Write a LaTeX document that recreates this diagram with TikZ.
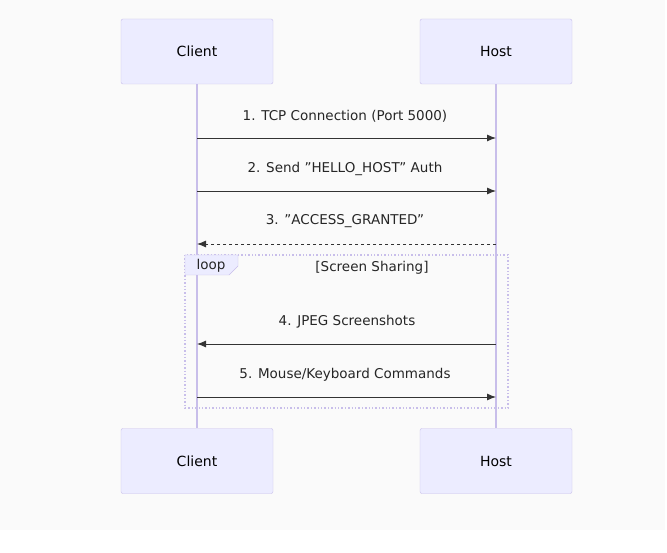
\documentclass[tikz,border=0pt]{standalone}
\usepackage{fontspec}
\setmainfont{DejaVu Sans}
\usetikzlibrary{arrows.meta}
\definecolor{actfill}{HTML}{ECECFF}
\definecolor{actline}{HTML}{C8BEEA}
\definecolor{msgline}{HTML}{333333}
\definecolor{bgcol}{HTML}{FAFAFA}
\newcommand{\dq}{\symbol{"22}}
\begin{document}
\begin{tikzpicture}[x=1pt,y=-1pt,
    actor/.style={draw=actline, fill=actfill, rounded corners=2pt, minimum width=152pt, minimum height=65pt, font=\fontsize{14}{16}\selectfont, text=black},
    msg/.style={draw=msgline, -{Latex[length=9pt,width=7pt]}, line width=0.9pt},
    lbl/.style={font=\fontsize{13.5}{16}\selectfont, text=black!85}]
\useasboundingbox (0,0) rectangle (667,553);
\fill[white] (0,0) rectangle (667,553);
\fill[bgcol] (0,0) rectangle (665,530);
% actors
\node[actor] (ct) at (197,51.5) {Client};
\node[actor] (ht) at (496,51.5) {Host};
\node[actor] (cb) at (197,461) {Client};
\node[actor] (hb) at (496,461) {Host};
% lifelines
\draw[actline, line width=1.2pt] (ct) -- (cb);
\draw[actline, line width=1.2pt] (ht) -- (hb);
% loop
\draw[actline, line width=1.4pt, dotted] (185,255) rectangle (508,408);
\fill[actfill, draw=actline] (185,255) -- (238,255) -- (238,266) -- (229,275) -- (185,275) -- cycle;
\node[lbl, anchor=west] (lp) at (193,266) {loop};
\node[lbl] (ss) at (372,268) {[Screen Sharing]};
% messages
\coordinate (c1) at (197,138); \coordinate (h1) at (496,138);
\coordinate (c2) at (197,191); \coordinate (h2) at (496,191);
\coordinate (c3) at (197,244); \coordinate (h3) at (496,244);
\coordinate (c4) at (197,344); \coordinate (h4) at (496,344);
\coordinate (c5) at (197,397); \coordinate (h5) at (496,397);
\draw[msg] (c1) -- (h1);
\node[lbl] (m1) at (345,116) {1. TCP Connection (Port 5000)};
\draw[msg] (c2) -- (h2);
\node[lbl] (m2) at (345,169) {2. Send \dq HELLO\_HOST\dq{} Auth};
\draw[msg, dash pattern=on 3pt off 3pt] (h3) -- (c3);
\node[lbl] (m3) at (345,221) {3. \dq ACCESS\_GRANTED\dq};
\draw[msg] (h4) -- (c4);
\node[lbl] (m4) at (347,322) {4. JPEG Screenshots};
\draw[msg] (c5) -- (h5);
\node[lbl] (m5) at (345,375) {5. Mouse/Keyboard Commands};
\end{tikzpicture}
\end{document}
